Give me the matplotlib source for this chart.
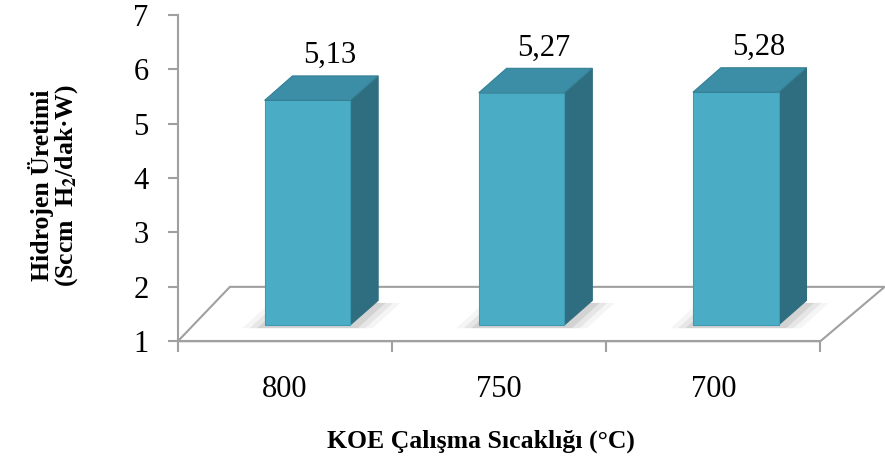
import matplotlib.pyplot as plt
from matplotlib.patches import Polygon

temps = ['800', '750', '700']
uretim = [5.13, 5.27, 5.28]
etiketler = ['5,13', '5,27', '5,28']

plt.rcParams['font.family'] = ['Liberation Serif', 'DejaVu Serif']
plt.rcParams['mathtext.fontset'] = 'stix'

front_c = '#4bacc6'
top_c = '#3b8ea5'
side_c = '#2e6e80'
grey = '#a0a0a0'

fig = plt.figure(figsize=(8.85, 4.7), dpi=100)
ax = fig.add_axes([0.201, 0.274, 0.726, 0.694])
ax.set_xlim(-0.5, 2.5)
ax.set_ylim(1, 7)

# zemin (3B taban)
base = 1
fdx, fdy = 0.243, 1.0
floor = Polygon([(-0.5, base), (2.5, base), (2.5 + fdx + 0.057, base + fdy),
                 (-0.5 + fdx, base + fdy)], closed=True, facecolor='white',
                edgecolor=grey, lw=1.5, clip_on=False, zorder=1)
ax.add_patch(floor)

w = 0.4
sx, sy = 0.10, 0.3      # cubugun zemindeki kaymasi
dx, dy = 0.13, 0.45     # cubuk derinligi
for i, v in enumerate(uretim):
    x0 = i + sx - w / 2 + 0.005
    y0 = base + sy
    y1 = v + sy
    # golge
    for k, a in enumerate([0.04, 0.06, 0.08]):
        off = 0.035 * (3 - k)
        sh = Polygon([(x0 - off, y0 - 0.06), (x0 + w + off, y0 - 0.06),
                      (x0 + w + dx + off, y0 + dy * 0.9), (x0 + dx - off, y0 + dy * 0.9)],
                     closed=True, facecolor='black', alpha=a, lw=0, clip_on=False, zorder=2)
        ax.add_patch(sh)
    front = Polygon([(x0, y0), (x0 + w, y0), (x0 + w, y1), (x0, y1)], closed=True,
                    facecolor=front_c, edgecolor='#3f9bb3', lw=0.8, clip_on=False, zorder=4)
    side = Polygon([(x0 + w, y0), (x0 + w + dx, y0 + dy), (x0 + w + dx, y1 + dy), (x0 + w, y1)],
                   closed=True, facecolor=side_c, edgecolor=side_c, lw=0.8, clip_on=False, zorder=3)
    top = Polygon([(x0, y1), (x0 + w, y1), (x0 + w + dx, y1 + dy), (x0 + dx, y1 + dy)],
                  closed=True, facecolor=top_c, edgecolor='#357f94', lw=0.8, clip_on=False, zorder=4)
    ax.add_patch(side)
    ax.add_patch(front)
    ax.add_patch(top)
    ax.text(i + 0.21, v + 1.12, etiketler[i], ha='center', va='center', fontsize=22)

for s in ['top', 'right']:
    ax.spines[s].set_visible(False)
ax.spines['left'].set_color(grey)
ax.spines['left'].set_linewidth(1.5)
ax.spines['bottom'].set_color(grey)
ax.spines['bottom'].set_linewidth(1.5)
ax.spines['bottom'].set_zorder(1.5)

ax.set_yticks(range(1, 8))
ax.tick_params(axis='y', colors=grey, labelcolor='black', labelsize=22, length=7, width=1.5, pad=14)
ax.set_xticks([-0.5, 0.5, 1.5, 2.5])
ax.set_xticklabels([])
ax.tick_params(axis='x', which='major', colors=grey, length=8, width=1.5)
ax.set_xticks([0, 1, 2], minor=True)
ax.set_xticklabels(temps, minor=True)
ax.tick_params(axis='x', which='minor', length=0, labelsize=22, pad=24)

fig.text(0.061, 0.606, 'Hidrojen Üretimi\n(Sccm  H$_{\\mathbf{2}}$/dak·W)', rotation=90,
         ha='center', va='center', fontsize=18.5, fontweight='bold', linespacing=0.95)
fig.text(0.543, 0.062, 'KOE Çalışma Sıcaklığı (°C)', ha='center', va='center',
         fontsize=18.5, fontweight='bold')

fig.savefig('out.png', dpi=100)
